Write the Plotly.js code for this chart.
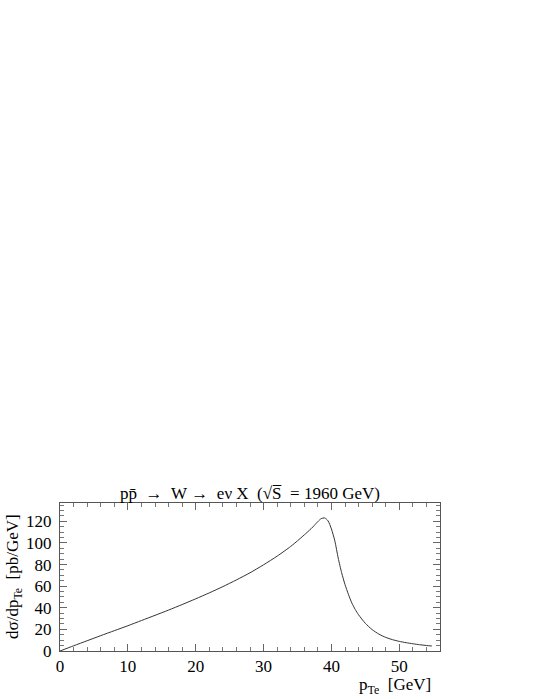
<!DOCTYPE html>
<html>
<head>
<meta charset="utf-8">
<script src="https://cdn.plot.ly/plotly-3.0.1.min.js"></script>
<style>
  html, body { margin: 0; padding: 0; background: #fff; }
  #chart { width: 540px; height: 699px; }
</style>
</head>
<body>
<div id="chart"></div>
<script>
// pT of electron (GeV)
const ptTe = [0, 2, 4, 6, 8, 10, 12, 14, 16, 18, 20, 22, 24, 26, 28, 30, 32, 34, 35, 36, 37, 37.5, 38, 38.5, 39, 39.5, 40, 40.5, 41, 41.5, 42, 42.5, 43, 43.5, 44, 45, 46, 47, 48, 49, 50, 51, 52, 53, 54, 54.8];
// dσ/dpTe (pb/GeV)
const dsigma = [0, 4.8, 9.5, 14.2, 18.8, 23.4, 28.2, 33.0, 37.9, 43.0, 48.3, 53.8, 59.6, 65.8, 72.4, 79.8, 87.8, 96.8, 102, 107.5, 113.2, 116.4, 119.8, 122.6, 123.2, 120.5, 113, 102, 86, 72.5, 61.5, 52.5, 44.5, 38.5, 33.5, 25.6, 19.8, 15.6, 12.6, 10.5, 8.9, 7.7, 6.7, 5.8, 5.1, 4.6];

const titleText = "pp\u0304\u00A0\u00A0\u2192\u00A0\u00A0W\u00A0\u2192\u00A0\u00A0e\u03BD\u00A0X\u00A0\u00A0(\u221AS\u0305\u00A0\u00A0=\u00A01960\u00A0GeV)";
const yTitle = "d\u03C3/dp<sub>Te</sub>\u00A0\u00A0[pb/GeV]";
const xTitle = "p<sub>Te</sub>\u00A0\u00A0[GeV]";

const font = { family: "Liberation Serif, Times New Roman, serif", size: 17, color: "#000" };

const trace = {
  x: ptTe,
  y: dsigma,
  type: "scatter",
  mode: "lines",
  line: { color: "#333", width: 1, shape: "spline", smoothing: 0.6 },
  hoverinfo: "skip"
};

const axisCommon = {
  showgrid: false,
  zeroline: false,
  showline: true,
  linecolor: "#555",
  linewidth: 1,
  mirror: "allticks",
  ticks: "inside",
  tickcolor: "#666",
  tickwidth: 1,
  ticklen: 7,
  tickfont: font
};

const layout = {
  width: 540,
  height: 699,
  margin: { l: 60, r: 100, t: 503, b: 48 },
  paper_bgcolor: "#fff",
  plot_bgcolor: "#fff",
  showlegend: false,
  font: font,
  title: {
    text: titleText,
    font: font,
    x: 0.5,
    xref: "paper",
    xanchor: "center",
    y: 1 - 493 / 699,
    yref: "container",
    yanchor: "middle"
  },
  xaxis: Object.assign({}, axisCommon, {
    range: [0, 56],
    tickmode: "linear",
    tick0: 0,
    dtick: 10,
    ticklabelstandoff: 0,
    minor: { dtick: 2, ticks: "inside", ticklen: 4, tickcolor: "#777", tickwidth: 1 }
  }),
  yaxis: Object.assign({}, axisCommon, {
    range: [0, 137],
    tickmode: "linear",
    tick0: 0,
    dtick: 20,
    ticklabelstandoff: 4,
    minor: { dtick: 5, ticks: "inside", ticklen: 4, tickcolor: "#777", tickwidth: 1 }
  }),
  annotations: [
    {
      text: yTitle,
      xref: "paper", yref: "paper",
      x: (14 - 60) / 380, y: 0.5,
      xanchor: "center", yanchor: "middle",
      textangle: -90,
      showarrow: false,
      font: font
    },
    {
      text: xTitle,
      xref: "paper", yref: "paper",
      x: (433 - 60) / 380, y: (651 - 686) / 148,
      xanchor: "right", yanchor: "middle",
      showarrow: false,
      font: font
    }
  ]
};

Plotly.newPlot("chart", [trace], layout, { displayModeBar: false, staticPlot: true });
</script>
</body>
</html>
